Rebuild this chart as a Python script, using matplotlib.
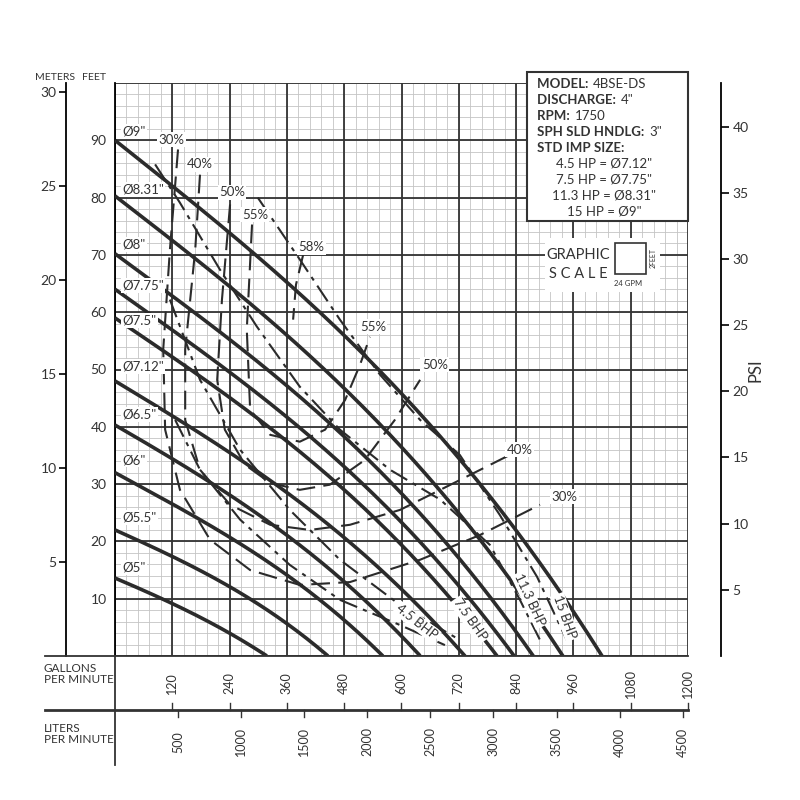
import numpy as np
import matplotlib
matplotlib.use("Agg")
import matplotlib.pyplot as plt
from matplotlib.patches import Rectangle
from matplotlib.lines import Line2D

plt.rcParams['font.family'] = ['Lato', 'DejaVu Sans']

# ---------------- data ----------------
imp_names = ['Ø9"', 'Ø8.31"', 'Ø8"', 'Ø7.75"', 'Ø7.5"', 'Ø7.12"', 'Ø6.5"', 'Ø6"', 'Ø5.5"', 'Ø5"']
imp_label_ft = [91.5, 81.4, 71.8, 64.6, 58.5, 50.6, 42.1, 34.2, 24.1, 15.5]
imp_q = [
    [0, 255, 510, 714, 867, 969, 1020],
    [0, 234, 469, 657, 797, 891, 938],
    [0, 219, 438, 613, 745, 832, 876],
    [0, 209, 418, 585, 711, 794, 836],
    [0, 200, 400, 560, 680, 760, 800],
    [0, 183, 367, 513, 623, 696, 733],
    [0, 160, 320, 447, 543, 607, 639],
    [0, 140, 281, 393, 477, 533, 561],
    [0, 112, 223, 312, 379, 424, 446],
    [0, 80, 159, 223, 270, 302, 318],
]
imp_h = [
    [90, 72.8, 53.5, 35.1, 18.9, 6.6, 0],
    [80.3, 64.9, 47.6, 31.2, 16.7, 5.9, 0],
    [70.2, 56.6, 41.5, 27.2, 14.6, 5.1, 0],
    [64, 51.5, 37.6, 24.6, 13.2, 4.6, 0],
    [59, 47.5, 34.8, 22.7, 12.2, 4.3, 0],
    [48, 38.6, 28.1, 18.3, 9.8, 3.4, 0],
    [40.3, 32.4, 23.5, 15.3, 8.2, 2.9, 0],
    [32, 25.6, 18.6, 12.1, 6.5, 2.25, 0],
    [22, 17.7, 12.9, 8.4, 4.5, 1.55, 0],
    [13.6, 10.7, 7.55, 4.8, 2.5, 0.9, 0],
]

eff_q = {
    '30%': [132, 115, 101, 105, 136, 199, 283, 387, 492, 639, 764, 890],
    '40%': [178, 168, 147, 147, 178, 241, 325, 408, 492, 597, 722, 827],
    '50%': [241, 224, 214, 230, 272, 325, 387, 450, 523, 586, 639],
    '55%': [287, 276, 283, 325, 387, 440, 482, 513, 534],
    '58%': [394, 379, 373],
}
eff_h = {
    '30%': [88.4, 70.9, 53.5, 39.5, 29.0, 20.3, 15.0, 12.4, 12.9, 16.8, 21.1, 26.4],
    '40%': [84.0, 70.9, 53.5, 41.2, 32.5, 26.4, 22.9, 22.0, 22.9, 25.5, 30.7, 35.1],
    '50%': [78.8, 62.2, 48.2, 39.5, 33.4, 30.2, 29.0, 29.9, 34.2, 41.2, 48.2],
    '55%': [75.3, 57.0, 43.0, 38.6, 37.4, 39.5, 44.7, 50.8, 55.7],
    '58%': [70.0, 64.8, 58.7],
}
eff_labels = [('30%', 119, 90.1), ('30%', 942, 27.8), ('40%', 178, 85.8), ('40%', 848, 36.0),
              ('50%', 245, 80.9), ('50%', 670, 50.8), ('55%', 293, 77.0), ('55%', 540, 57.5),
              ('58%', 412, 71.3)]

bhp_q = {
    '15 BHP': [299, 387, 471, 555, 639, 722, 806, 884, 946],
    '11.3 BHP': [84, 136, 220, 297, 387, 471, 576, 681, 785, 848, 890],
    '7.5 BHP': [115, 178, 262, 366, 471, 597, 722],
    '4.5 BHP': [126, 178, 262, 366, 471, 597, 691],
}
bhp_h = {
    '15 BHP': [80.0, 69.2, 58.7, 49.1, 41.2, 35.1, 24.6, 13.8, 2.8],
    '11.3 BHP': [85.8, 79.1, 67.4, 57.5, 47.0, 39.5, 32.5, 27.3, 19.4, 9.8, 2.8],
    '7.5 BHP': [62.2, 48.2, 36.0, 25.5, 16.8, 8.9, 2.8],
    '4.5 BHP': [41.2, 32.5, 23.8, 15.9, 9.8, 5.4, 1.9],
}
bhp_labels = [('4.5 BHP', 632, 5.9, -38), ('7.5 BHP', 743, 6.3, -55),
              ('11.3 BHP', 869, 9.8, -65), ('15 BHP', 942, 6.8, -70)]

gpm_ticks = [120, 240, 360, 480, 600, 720, 840, 960, 1080, 1200]
lpm_ticks = [500, 1000, 1500, 2000, 2500, 3000, 3500, 4000, 4500]
feet_ticks = [10, 20, 30, 40, 50, 60, 70, 80, 90]
meter_ticks = [5, 10, 15, 20, 25, 30]
psi_ticks = [5, 10, 15, 20, 25, 30, 35, 40]

info_rows = [('MODEL: ', '4BSE-DS'), ('DISCHARGE: ', '4"'), ('RPM: ', '1750'),
             ('SPH SLD HNDLG: ', '3"'), ('STD IMP SIZE:', '')]
info_sizes = ['4.5 HP = Ø7.12"', '7.5 HP = Ø7.75"', '11.3 HP = Ø8.31"', '15 HP = Ø9"']

# ---------------- figure ----------------
W = H = 800
fig = plt.figure(figsize=(8, 8), dpi=100)
def fx(x): return x / W
def fy(y): return 1 - y / H

L, R, B, T = 115, 688, 656, 83
ax = fig.add_axes([fx(L), fy(B), fx(R) - fx(L), fy(T) - fy(B)])
ax.set_xlim(0, 1200)
ax.set_ylim(0, 100)

for q in np.arange(0, 1201, 24):
    ax.axvline(q, color='#c4c4c4', lw=0.6, zorder=0)
for h in np.arange(0, 101, 2):
    ax.axhline(h, color='#c4c4c4', lw=0.6, zorder=0)
for q in np.arange(0, 1201, 120):
    ax.axvline(q, color='#333333', lw=1.3, zorder=1)
for h in np.arange(0, 101, 10):
    ax.axhline(h, color='#333333', lw=1.3, zorder=1)
for s in ax.spines.values():
    s.set_visible(False)
ax.spines['left'].set_visible(True)
ax.spines['left'].set_linewidth(1.3)
ax.set_xticks([])
ax.set_yticks(feet_ticks)
ax.set_yticklabels([str(v) for v in feet_ticks], fontsize=10, color='#333')
ax.tick_params(axis='y', length=0, pad=6)

# impeller curves
for name, q, h, ly in zip(imp_names, imp_q, imp_h, imp_label_ft):
    q = np.array(q, float); h = np.array(h, float)
    c = np.polyfit(q, h, 3)
    qq = np.linspace(0, q[-1], 200)
    hh = np.clip(np.polyval(c, qq), 0, None)
    ax.plot(qq, hh, color='#2b2b2b', lw=2.6, zorder=5, solid_capstyle='butt')
    ax.text(15, ly, name, fontsize=9.5, color='#333', ha='left', va='center', zorder=8,
            bbox=dict(facecolor='white', edgecolor='none', pad=1))

# efficiency curves
for k in eff_q:
    ax.plot(eff_q[k], eff_h[k], color='#2b2b2b', lw=1.5, ls=(0, (9, 4)), zorder=4)
for t, q, h in eff_labels:
    ax.text(q, h, t, fontsize=9.5, color='#333', ha='center', va='center', zorder=8,
            bbox=dict(facecolor='white', edgecolor='none', pad=1))

# BHP lines
for k in bhp_q:
    ax.plot(bhp_q[k], bhp_h[k], color='#2b2b2b', lw=1.5, ls=(0, (9, 3, 2, 3)), zorder=4)
for t, q, h, rot in bhp_labels:
    ax.text(q, h, t, fontsize=9.5, color='#333', ha='center', va='center', rotation=rot,
            zorder=8, bbox=dict(facecolor='white', edgecolor='none', pad=1))

# meters axis
axm = ax.twinx()
axm.set_ylim(0, 100 * 0.3048)
axm.yaxis.set_ticks_position('left')
axm.yaxis.set_label_position('left')
for s in axm.spines.values():
    s.set_visible(False)
axm.spines['left'].set_visible(True)
axm.spines['left'].set_position(('outward', 35))
axm.spines['left'].set_linewidth(1.3)
axm.set_yticks(meter_ticks)
axm.set_yticklabels([str(v) for v in meter_ticks], fontsize=10, color='#333')
axm.tick_params(axis='y', direction='out', length=5, width=1.2, pad=2)
axm.set_xticks([])

# psi axis
axp = ax.twinx()
axp.set_ylim(0, 100 / 2.31)
for s in axp.spines.values():
    s.set_visible(False)
axp.spines['right'].set_visible(True)
axp.spines['right'].set_position(('outward', 24))
axp.spines['right'].set_linewidth(1.3)
axp.set_yticks(psi_ticks)
axp.set_yticklabels([str(v) for v in psi_ticks], fontsize=10, color='#333')
axp.tick_params(axis='y', direction='out', length=6, width=1.2, pad=2)
axp.set_xticks([])
fig.text(fx(755), fy(370), 'PSI', rotation=90, fontsize=12, color='#333', ha='center', va='center')

fig.text(fx(35), fy(78), 'METERS', fontsize=7.5, color='#333', ha='left', va='center')
fig.text(fx(82), fy(78), 'FEET', fontsize=7.5, color='#333', ha='left', va='center')

# bottom scale rows
def fline(x0, y0, x1, y1, lw=1.3):
    fig.add_artist(Line2D([fx(x0), fx(x1)], [fy(y0), fy(y1)], color='#333', lw=lw))
fline(45, B, R, B)
fline(45, 710, R, 710, lw=2)
fline(L, B, L, 765)
def gx(q): return L + (R - L) * q / 1200
for g in gpm_ticks:
    fline(gx(g), 710, gx(g), 703, lw=1)
    fig.text(fx(gx(g)), fy(683), str(g), rotation=90, fontsize=9, color='#333', ha='center', va='center')
for lp in lpm_ticks:
    x = gx(lp / 3.785)
    fline(x, 710, x, 717, lw=1)
    fig.text(fx(x), fy(742), str(lp), rotation=90, fontsize=9, color='#333', ha='center', va='center')
fig.text(fx(44), fy(674), 'GALLONS\nPER MINUTE', fontsize=8.5, color='#333', ha='left', va='center', linespacing=1.0)
fig.text(fx(44), fy(734), 'LITERS\nPER MINUTE', fontsize=8.5, color='#333', ha='left', va='center', linespacing=1.0)

# info box
fig.add_artist(Rectangle((fx(527), fy(221)), fx(688) - fx(527), fy(72) - fy(221),
                         transform=fig.transFigure, facecolor='white', edgecolor='#333', lw=1.5, zorder=20))
ys = [84, 100, 116, 132, 148]
for (b, n), y in zip(info_rows, ys):
    t = fig.text(fx(537), fy(y), b, fontsize=9.5, fontweight='bold', color='#333', ha='left', va='center', zorder=21)
    if n:
        fig.text(0, 0, n, fontsize=9.5, color='#333', ha='left', va='center', zorder=21,
                 transform=matplotlib.transforms.offset_copy(fig.transFigure, fig=fig, x=0, y=0)) .remove()
        fig.add_artist(matplotlib.text.Annotation(n, xy=(1, 0.5), xycoords=t, xytext=(1, 0),
                       textcoords='offset points', fontsize=9.5, color='#333', ha='left', va='center', zorder=21))
for s, y in zip(info_sizes, [164, 180, 196, 212]):
    fig.text(fx(604), fy(y), s, fontsize=9.5, color='#333', ha='center', va='center', zorder=21)

# graphic scale
fig.add_artist(Rectangle((fx(545), fy(292)), fx(660) - fx(545), fy(238) - fy(292),
                         transform=fig.transFigure, facecolor='white', edgecolor='none', zorder=20))
fig.add_artist(Rectangle((fx(615), fy(274)), fx(646) - fx(615), fy(243) - fy(274),
                         transform=fig.transFigure, facecolor='white', edgecolor='#333', lw=1.2, zorder=21))
fig.text(fx(578), fy(255), 'GRAPHIC', fontsize=10.5, color='#333', ha='center', va='center', zorder=21)
fig.text(fx(578), fy(274), 'S C A L E', fontsize=10.5, color='#333', ha='center', va='center', zorder=21)
fig.text(fx(653), fy(258), '2FEET', fontsize=5, rotation=90, color='#333', ha='center', va='center', zorder=21)
fig.text(fx(628), fy(283), '24 GPM', fontsize=5.5, color='#333', ha='center', va='center', zorder=21)

fig.savefig('out.png', dpi=100, facecolor='white')
